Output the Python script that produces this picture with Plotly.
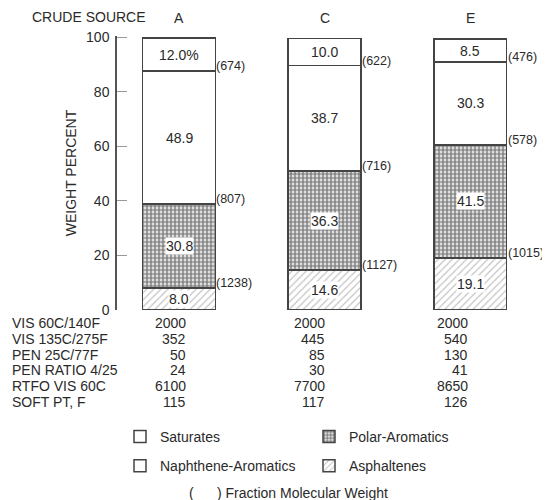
import plotly.graph_objects as go

# ---------------- data ----------------
sources = ["A", "C", "E"]
asphaltenes = [8.0, 14.6, 19.1]
polar_aromatics = [30.8, 36.3, 41.5]
naphthene_aromatics = [48.9, 38.7, 30.3]
saturates = [12.0, 10.0, 8.5]
saturates_text = ["12.0%", "10.0", "8.5"]

mw_saturates = [674, 622, 476]
mw_naphthene = [807, 716, 578]
mw_polar = [1238, 1127, 1015]

prop_names = ["VIS 60C/140F", "VIS 135C/275F", "PEN 25C/77F",
              "PEN RATIO 4/25", "RTFO VIS 60C", "SOFT PT, F"]
props_A = [2000, 352, 50, 24, 6100, 115]
props_C = [2000, 445, 85, 30, 7700, 117]
props_E = [2000, 540, 130, 41, 8650, 126]
y_ticks = [0, 20, 40, 60, 80, 100]

# ---------------- layout geometry ----------------
# The page body has an 8px margin; the figure is sized/positioned so that
# screen coordinates match the reference.
OFF = 8
W, H = 550 - OFF, 500 - OFF
ML, MR, MT, MB = 117 - OFF, 7, 36 - OFF, 198 - OFF
PW, PH = W - ML - MR, H - MT - MB
FONT = "Liberation Sans, Arial, sans-serif"
TXT = "#2a2a2a"
FS = 14


def px2x(px):
    return (px - OFF - ML) / PW


def py2y(py):
    return (H - MB - (py - OFF)) / PH


xs = list(range(len(sources)))
bw = 0.5
line = dict(color="#444444", width=1.5)

fig = go.Figure()
fig.add_trace(go.Bar(
    x=xs, y=asphaltenes, width=bw, name="Asphaltenes",
    marker=dict(color="white", line=line,
                pattern=dict(shape="/", fgcolor="#8a8a8a", bgcolor="white",
                             size=5, solidity=0.25)),
    legend="legend2", legendgroup="asp", legendrank=2, hoverinfo="skip"))
fig.add_trace(go.Bar(
    x=xs, y=polar_aromatics, width=bw, name="Polar-Aromatics",
    marker=dict(color="white", line=line,
                pattern=dict(shape=".", fgcolor="#111111", bgcolor="white",
                             size=4, solidity=0.7)),
    legend="legend2", legendgroup="pol", legendrank=1, hoverinfo="skip"))
fig.add_trace(go.Bar(
    x=xs, y=naphthene_aromatics, width=bw, name="Naphthene-Aromatics",
    marker=dict(color="white", line=line),
    legend="legend", legendgroup="nap", legendrank=2, hoverinfo="skip"))
fig.add_trace(go.Bar(
    x=xs, y=saturates, width=bw, name="Saturates",
    marker=dict(color="white", line=line),
    legend="legend", legendgroup="sat", legendrank=1, hoverinfo="skip"))

ann = []
# segment labels and molecular weights
for i in xs:
    b1 = asphaltenes[i]
    b2 = b1 + polar_aromatics[i]
    b3 = b2 + naphthene_aromatics[i]
    b4 = b3 + saturates[i]
    segs = [((0 + b1) / 2, f"{asphaltenes[i]:.1f}", True),
            ((b1 + b2) / 2, f"{polar_aromatics[i]:.1f}", True),
            ((b2 + b3) / 2, f"{naphthene_aromatics[i]:.1f}", False),
            ((b3 + b4) / 2, saturates_text[i], False)]
    for yv, t, bg in segs:
        ann.append(dict(x=i, y=yv, xref="x", yref="y", text=t, showarrow=False,
                        xanchor="center", yanchor="middle",
                        font=dict(family=FONT, size=FS, color=TXT),
                        bgcolor="white" if bg else None, borderpad=0))
    for yv, mw in [(b3, mw_saturates[i]), (b2, mw_naphthene[i]), (b1, mw_polar[i])]:
        ann.append(dict(x=i + bw / 2, y=yv, xref="x", yref="y", text=f"({mw})",
                        showarrow=False, xanchor="left", yanchor="middle",
                        xshift=0, yshift=5, borderpad=0,
                        font=dict(family=FONT, size=12.5, color=TXT)))
    # source label
    ann.append(dict(x=i, y=py2y(18), xref="x", yref="paper", text=sources[i],
                    showarrow=False, xanchor="center", yanchor="middle",
                    font=dict(family=FONT, size=FS, color=TXT)))

ann.append(dict(x=px2x(30), y=py2y(17), xref="paper", yref="paper",
                text="CRUDE SOURCE", showarrow=False, xanchor="left",
                yanchor="middle",
                font=dict(family=FONT, size=FS, color=TXT)))

# property table
row_y = [323, 338.8, 354.6, 370.4, 386.2, 402]
col_px = [188, 327, 470]
for r, name in enumerate(prop_names):
    ann.append(dict(x=px2x(10), y=py2y(row_y[r]), xref="paper", yref="paper",
                    text=name, showarrow=False, xanchor="left",
                    yanchor="middle",
                    font=dict(family=FONT, size=FS, color=TXT)))
    for c, vals in enumerate([props_A, props_C, props_E]):
        ann.append(dict(x=px2x(col_px[c]), y=py2y(row_y[r]), xref="paper",
                        yref="paper", text=str(vals[r]), showarrow=False,
                        xanchor="right", yanchor="middle",
                        font=dict(family=FONT, size=FS, color=TXT)))

ann.append(dict(x=px2x(187), y=py2y(493), xref="paper", yref="paper",
                text="(&nbsp;&nbsp;&nbsp;&nbsp;&nbsp;&nbsp;) Fraction Molecular Weight",
                showarrow=False, xanchor="left", yanchor="middle",
                font=dict(family=FONT, size=FS, color=TXT)))

legend_common = dict(orientation="v", traceorder="grouped",
                     tracegroupgap=8,
                     font=dict(family=FONT, size=FS, color=TXT),
                     bgcolor="rgba(0,0,0,0)", yanchor="top", xanchor="left")

fig.update_layout(
    width=W, height=H,
    margin=dict(l=ML, r=MR, t=MT, b=MB, autoexpand=False),
    paper_bgcolor="white", plot_bgcolor="white",
    barmode="stack",
    showlegend=True,
    legend=dict(x=px2x(120), y=py2y(421), **legend_common),
    legend2=dict(x=px2x(309), y=py2y(421), **legend_common),
    xaxis=dict(range=[-0.426, 2.5], visible=False),
    yaxis=dict(range=[0, 100.5], tickvals=y_ticks, ticks="inside", ticklen=10,
               tickcolor="#999999", showline=True, linecolor="#555555",
               linewidth=1.5, showgrid=False, zeroline=False,
               tickfont=dict(family=FONT, size=FS, color=TXT),
               ticklabelstandoff=3,
               title=dict(text="WEIGHT PERCENT", standoff=6,
                          font=dict(family=FONT, size=FS, color=TXT))),
    annotations=ann,
)

fig.write_html("out.html")
